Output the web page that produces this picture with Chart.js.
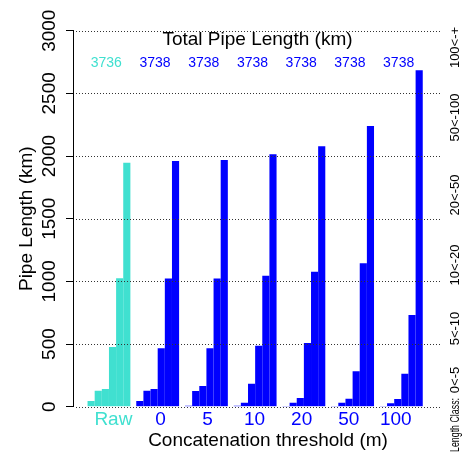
<!DOCTYPE html>
<html lang="en">
<head>
<meta charset="UTF-8" />
<title>Pipe Length by Length Class</title>
<script src="https://cdn.jsdelivr.net/npm/chart.js@4/dist/chart.umd.min.js"></script>
<style>
  body { margin: 0; background: #fff; }
  canvas { display: block; }
</style>
</head>
<body>
<canvas id="myChart" width="462" height="452"></canvas>
<script>
// groups on the x axis (concatenation threshold, m)
const groups = ["Raw", "0", "5", "10", "20", "50", "100"];
// length classes (one bar per class in every group)
const classes = ["0<-5", "5<-10", "10<-20", "20<-50", "50<-100", "100<-+"];

// pipe length (km) per class, one value per group
const len0to5    = [45, 45, 8, 8, 6, 6, 5];
const len5to10   = [128, 128, 125, 32, 32, 32, 27];
const len10to20  = [141, 141, 165, 184, 70, 64, 61];
const len20to50  = [476, 466, 466, 487, 508, 282, 263];
const len50to100 = [1024, 1022, 1022, 1045, 1077, 1144, 732];
const len100plus = [1947, 1960, 1968, 2014, 2078, 2240, 2684];
const series = [len0to5, len5to10, len10to20, len20to50, len50to100, len100plus];

// total pipe length (km) written above each group
const totals = [3736, 3738, 3738, 3738, 3738, 3738, 3738];

const yTicks = [0, 500, 1000, 1500, 2000, 2500, 3000];

const TURQ = "#40E0D0";
const BLUE = "#0000FF";
const groupColors = groups.map(g => g === "Raw" ? TURQ : BLUE);
const FONT = "'Liberation Sans', Arial, Helvetica, sans-serif";

// y positions of the right-hand class labels
const classLabelY = [380, 328.5, 265, 195, 117.5, 47.5];

function rotText(ctx, text, x, y, maxW) {
  ctx.save();
  ctx.translate(x, y);
  ctx.rotate(-Math.PI / 2);
  if (maxW) ctx.fillText(text, 0, 0, maxW);
  else ctx.fillText(text, 0, 0);
  ctx.restore();
}

const decor = {
  id: "decor",
  afterDatasetsDraw(chart) {
    // dotted grid lines, drawn over the bars
    const ctx = chart.ctx, y = chart.scales.y;
    ctx.save();
    ctx.strokeStyle = "#333";
    ctx.lineWidth = 1;
    ctx.setLineDash([1, 2]);
    y.ticks.forEach(t => {
      const py = Math.round(y.getPixelForValue(t.value)) + 0.5;
      ctx.beginPath();
      ctx.moveTo(76, py);
      ctx.lineTo(441, py);
      ctx.stroke();
    });
    ctx.restore();
  },
  afterDraw(chart) {
    const ctx = chart.ctx, x = chart.scales.x, y = chart.scales.y;
    ctx.save();
    ctx.textAlign = "center";
    ctx.textBaseline = "alphabetic";
    ctx.fillStyle = "#000";

    // y tick labels (rotated like R)
    ctx.font = "19px " + FONT;
    y.ticks.forEach(t => rotText(ctx, String(t.value), 55, y.getPixelForValue(t.value)));

    // axis titles
    rotText(ctx, "Pipe Length (km)", 32, (y.top + y.bottom) / 2);
    ctx.fillText("Concatenation threshold (m)", 268, 445.7);
    ctx.fillText("Total Pipe Length (km)", 257.5, 44.7);

    // totals per group
    ctx.font = "14px " + FONT;
    totals.forEach((v, i) => {
      ctx.fillStyle = groupColors[i];
      ctx.fillText(String(v), x.getPixelForValue(i) - 2.7, 67.3);
    });

    // length class legend on the right
    ctx.fillStyle = "#000";
    ctx.font = "13px " + FONT;
    classes.forEach((c, k) => rotText(ctx, c, 459, classLabelY[k]));
    ctx.textAlign = "right";
    rotText(ctx, "Length Class:", 459, 398, 54);
    ctx.restore();
  }
};

new Chart(document.getElementById("myChart"), {
  type: "bar",
  data: {
    datasets: classes.map((c, k) => ({
      label: c,
      data: series[k].map((v, i) => ({ x: i, y: v })),
      backgroundColor: groupColors,
      borderWidth: 0
    }))
  },
  options: {
    responsive: false,
    animation: false,
    datasets: { bar: { categoryPercentage: 0.91, barPercentage: 1 } },
    layout: { padding: { top: 30.7, right: 21, bottom: 0, left: 0 } },
    plugins: { legend: { display: false }, tooltip: { enabled: false } },
    scales: {
      x: {
        type: "linear",
        offset: false,
        min: -0.738,
        max: 6.814,
        grid: { display: false, drawTicks: false, offset: false },
        border: { display: false },
        // group names sit on a slightly tighter spacing than the bar groups
        afterBuildTicks: s => { s.ticks = groups.map((g, i) => ({ value: 0.091 + 0.966 * i })); },
        afterFit: s => { s.height = 45.3; },
        ticks: {
          autoSkip: false,
          maxRotation: 0,
          padding: 2,
          font: { family: FONT, size: 19 },
          color: c => groupColors[c.index],
          callback: (v, i) => groups[i]
        }
      },
      y: {
        min: 0,
        max: 3000,
        afterBuildTicks: s => { s.ticks = yTicks.map(v => ({ value: v })); },
        afterFit: s => { s.width = 73; },
        ticks: { display: false },
        grid: { drawOnChartArea: false, drawTicks: true, tickLength: 7, color: "#000" },
        border: { display: true, color: "#000", width: 1 }
      }
    }
  },
  plugins: [decor]
});
</script>
</body>
</html>
